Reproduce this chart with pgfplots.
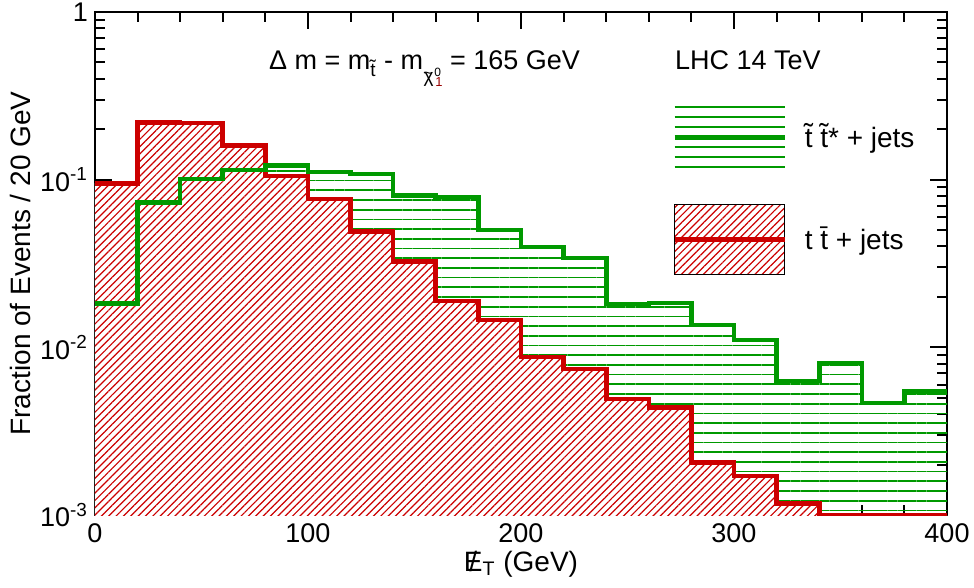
\documentclass[border=0pt]{standalone}
\usepackage{fontspec}
\setmainfont{Liberation Sans}
\usepackage{pgfplots}
\pgfplotsset{compat=1.18}
\usetikzlibrary{patterns.meta}
\definecolor{hgreen}{RGB}{0,153,0}
\definecolor{hred}{RGB}{204,0,0}

\pgfplotstableread{
x y
0 0.0183
20 0.0733
40 0.101
60 0.114
80 0.121
100 0.111
120 0.108
140 0.0803
160 0.0788
180 0.0501
200 0.0397
220 0.0341
240 0.01815
260 0.0184
280 0.0136
300 0.01107
320 0.0063
340 0.00807
360 0.00466
380 0.00545
400 0.00545
}\stoptable

\pgfplotstableread{
x y
0 0.0952
20 0.2188
40 0.2175
60 0.1595
80 0.1052
100 0.0767
120 0.0490
140 0.0324
160 0.0189
180 0.01457
200 0.00877
220 0.00743
240 0.00492
260 0.00437
280 0.00206
300 0.00171
320 0.00117
340 0.001
360 0.001
380 0.001
400 0.001
}\tttable

\newcommand\subchi{\kern0.3pt\raisebox{-6.5pt}{\fontsize{9.5}{9.5}\selectfont χ}\llap{\raisebox{-4.3pt}{\fontsize{8}{8}\selectfont\textasciitilde}\kern0.5pt}\kern0.3pt\rlap{\raisebox{-3.3pt}{\fontsize{6}{6}\selectfont 0}}\kern0.6pt\raisebox{-8.5pt}{\fontsize{6.5}{6.5}\selectfont\color{red!60!black}1}}

\begin{document}
\begin{tikzpicture}
\useasboundingbox (-47.5pt,-36.5pt) rectangle (439.5pt,257.5pt);
\begin{axis}[
  at={(0pt,0pt)}, anchor=south west,
  scale only axis, width=426pt, height=251.5pt,
  ymode=log, xmin=0, xmax=400, ymin=1e-3, ymax=1,
  axis line style={line width=1.4pt},
  tick style={black, line width=1pt},
  tick align=inside,
  major tick length=8.5pt, minor tick length=5pt,
  xtick={0,100,200,300,400},
  xticklabels={0,100,200,300,400},
  minor x tick num=4,
  ytick={1e-3,1e-2,1e-1,1},
  yticklabels={10\textsuperscript{-3},10\textsuperscript{-2},10\textsuperscript{-1},1},
  ticklabel style={font=\fontsize{13.5}{16}\selectfont},
  xticklabel style={yshift=-1pt},
  label style={font=\fontsize{14}{17}\selectfont},
  xlabel={\ooalign{E\cr\hidewidth/\hidewidth}\textsubscript{T} (GeV)},
  ylabel={Fraction of Events / 20 GeV},
  xlabel style={yshift=3pt},
  ylabel style={yshift=-2pt},
  legend style={at={(axis description cs:0.677,0.813)}, anchor=north west,
    draw=none, fill=none, inner sep=0pt, row sep=18pt,
    font=\fontsize{14}{17}\selectfont,
    /tikz/every odd column/.append style={column sep=7pt}},
  legend cell align=left,
]
\addplot[const plot, draw=none, forget plot,
  pattern={Lines[angle=0,distance=4.85pt,line width=0.85pt]}, pattern color=hgreen]
  table {
x y
0 1e-5
0 0.0183
20 0.0733
40 0.101
60 0.114
80 0.121
100 0.111
120 0.108
140 0.0803
160 0.0788
180 0.0501
200 0.0397
220 0.0341
240 0.01815
260 0.0184
280 0.0136
300 0.01107
320 0.0063
340 0.00807
360 0.00466
380 0.00545
400 0.00545
400 1e-5
};
\addplot[const plot, draw=none, forget plot, fill=white,
  postaction={pattern={Lines[angle=45,distance=2.6pt,line width=0.6pt]}, pattern color=hred}]
  table {
x y
0 1e-5
0 0.0952
20 0.2188
40 0.2175
60 0.1595
80 0.1052
100 0.0767
120 0.0490
140 0.0324
160 0.0189
180 0.01457
200 0.00877
220 0.00743
240 0.00492
260 0.00437
280 0.00206
300 0.00171
320 0.00117
340 0.001
360 0.001
380 0.001
400 0.001
400 1e-5
};
\addplot[const plot, hred, line width=2.3pt, forget plot] table[x=x,y=y] {\tttable};
\addplot[const plot, hgreen, line width=2.3pt, forget plot] table[x=x,y=y] {\stoptable};

\addlegendimage{legend image code/.code={
  \foreach \yy in {-15,-10,-5,5,10,15}{\draw[hgreen, line width=0.85pt] (0pt,\yy pt) -- (55pt,\yy pt);}
  \draw[hgreen, line width=2.3pt] (0pt,0pt) -- (55pt,0pt);}}
\addlegendentry{\~{t} \~{t}* + jets}
\addlegendimage{legend image code/.code={
  \fill[pattern={Lines[angle=45,distance=2.6pt,line width=0.6pt]}, pattern color=hred] (0pt,-17.5pt) rectangle (55pt,17.5pt);
  \draw[hred, line width=2.3pt] (0pt,0pt) -- (55pt,0pt);}}
\addlegendentry{t \={t} + jets}

\node[anchor=base west, font=\fontsize{13.5}{16}\selectfont] at (axis description cs:0.196,0.885)
  {Δ m = m\textsubscript{\~{t}} - m\subchi\ = 165 GeV};
\node[anchor=base west, font=\fontsize{13.5}{16}\selectfont] at (axis description cs:0.6725,0.885)
  {LHC 14 TeV};
\end{axis}
\end{tikzpicture}
\end{document}
